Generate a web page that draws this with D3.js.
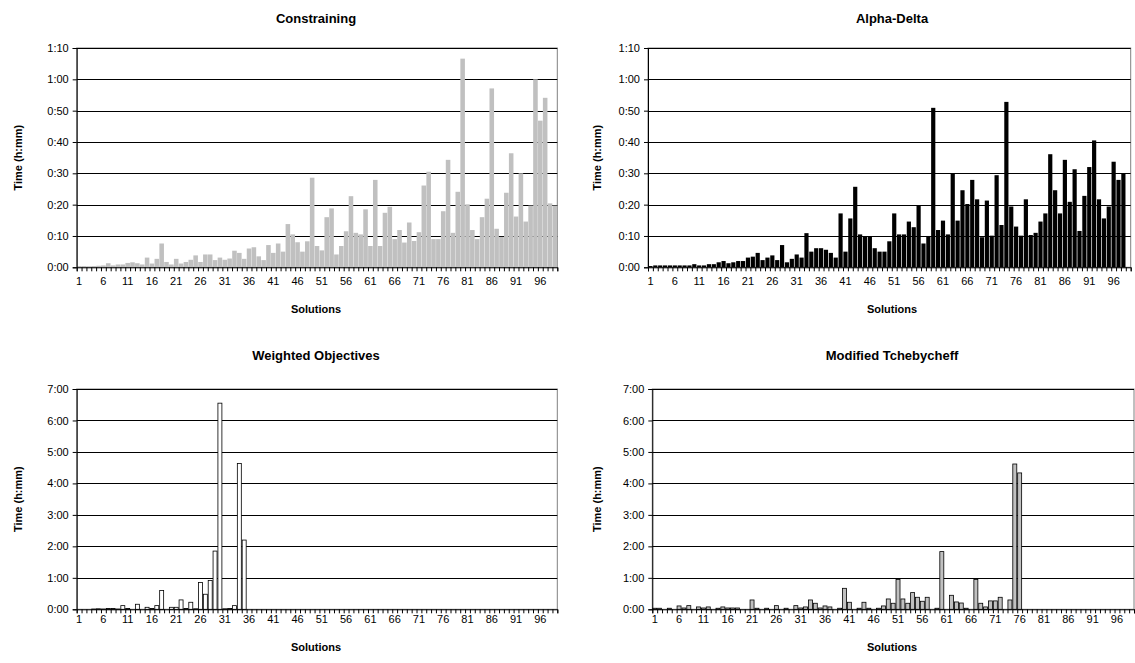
<!DOCTYPE html>
<html>
<head>
<meta charset="utf-8">
<script src="https://cdn.jsdelivr.net/npm/d3@7"></script>
<style>
  body { margin: 0; background: #fff; }
  svg { display: block; font-family: "Liberation Sans", Arial, sans-serif; }
</style>
</head>
<body>
<svg id="chart" width="1135" height="663"></svg>
<script>
// solution numbers 1..99
const solutions = d3.range(1, 100);
const xLabels = solutions.filter(d => (d - 1) % 5 === 0);

// run times in minutes
const constraining = [
  0.4, 0.4, 0.3, 0.4, 0.5, 0.6, 1.3, 0.6, 0.9, 0.9,
  1.4, 1.6, 1.3, 0.9, 3.1, 1.2, 2.7, 7.6, 1.7, 0.9,
  2.7, 1.2, 1.7, 2.4, 3.8, 1.7, 4.1, 4.1, 2.3, 3.1,
  2.4, 2.8, 5.3, 4.6, 2.7, 6.0, 6.4, 3.5, 2.3, 7.1,
  4.6, 7.6, 5.0, 13.8, 10.5, 8.0, 5.0, 8.3, 28.6, 6.8,
  5.4, 16.0, 18.8, 4.1, 6.8, 11.5, 22.7, 11.0, 10.5, 18.5,
  6.8, 27.9, 6.8, 17.4, 19.3, 9.0, 11.9, 7.9, 14.3, 8.4,
  11.2, 26.1, 30.5, 9.0, 9.0, 17.9, 34.3, 11.0, 24.1, 66.6,
  20.1, 11.9, 9.0, 16.0, 21.9, 57.1, 12.3, 9.7, 23.8, 36.4,
  16.2, 30.0, 14.6, 19.7, 60.0, 46.8, 54.1, 20.4, 19.7
];

const alphaDelta = [
  0.4, 0.6, 0.6, 0.6, 0.6, 0.6, 0.6, 0.6, 0.6, 1.0,
  0.6, 0.6, 1.0, 1.0, 1.6, 2.0, 1.3, 1.6, 2.0, 2.0,
  3.1, 3.4, 4.6, 2.3, 3.1, 3.8, 2.3, 7.1, 1.6, 2.7,
  4.1, 3.1, 10.9, 5.0, 6.1, 6.1, 5.6, 4.6, 3.1, 17.2,
  5.0, 15.6, 25.7, 10.5, 9.8, 9.8, 6.1, 5.0, 5.0, 8.3,
  17.2, 10.5, 10.5, 14.6, 12.8, 19.8, 7.6, 10.0, 50.9, 11.9,
  14.9, 10.5, 30.0, 14.9, 24.6, 20.2, 27.9, 21.7, 9.6, 21.3,
  10.1, 29.4, 13.5, 52.8, 19.4, 13.0, 10.1, 21.7, 10.3, 11.0,
  14.6, 17.2, 36.1, 24.6, 17.2, 34.3, 20.9, 31.3, 11.6, 22.8,
  32.0, 40.5, 21.7, 15.6, 19.4, 33.7, 27.9, 30.0, 0
];

const weighted = [
  0, 0, 0, 0.5, 1, 0.5, 1.5, 1.5, 0.5, 7,
  1.5, 0, 9.6, 0, 3.8, 1.5, 7, 35.7, 0, 3.8,
  3.8, 17.9, 1.5, 13.4, 1, 51, 28.7, 55, 111, 393,
  1, 1.5, 7, 278, 132, 0, 0, 0, 0, 0,
  0, 0, 0, 0, 0, 0, 0, 0, 0, 0,
  0, 0, 0, 0, 0, 0, 0, 0, 0, 0,
  0, 0, 0, 0, 0, 0, 0, 0, 0, 0,
  0, 0, 0, 0, 0, 0, 0, 0, 0, 0,
  0, 0, 0, 0, 0, 0, 0, 0, 0, 0,
  0, 0, 0, 0, 0, 0, 0, 0, 0
];

const tchebycheff = [
  2, 2, 0, 2, 0, 6.4, 2.5, 7, 0, 4.5,
  2.5, 4.5, 0, 2, 4.5, 2.5, 2.5, 2.5, 0, 0,
  17.8, 2, 0, 2, 0, 7, 0, 2, 0, 7,
  2.5, 4.5, 17.8, 11.5, 2.5, 6.4, 4.5, 0, 2, 40,
  13.4, 0, 2, 13.4, 2, 0, 2, 6.4, 19.7, 11.5,
  57, 19.7, 11.5, 31.8, 22.9, 15.3, 22.9, 0, 2, 110,
  0, 26.7, 14, 12, 2, 0, 57, 11.5, 4.5, 16,
  16, 22.9, 0, 17.8, 277, 260, 0, 0, 0, 0,
  0, 0, 0, 0, 0, 0, 0, 0, 0, 0,
  0, 0, 0, 0, 0, 0, 0, 0, 0
];

const panels = [
  { title: "Constraining", values: constraining, max: 70, step: 10,
    left: 76.7, top: 48, right: 557.3, bottom: 267.3, cx: 316, ylab: 18, shift: 0,
    fill: "#c0c0c0", stroke: "none", pad: 0.06 },
  { title: "Alpha-Delta", values: alphaDelta, max: 70, step: 10,
    left: 648, top: 48, right: 1130.7, bottom: 267.3, cx: 892, ylab: 597, shift: 0,
    fill: "#000000", stroke: "none", pad: 0.14 },
  { title: "Weighted Objectives", values: weighted, max: 420, step: 60,
    left: 76.7, top: 389, right: 557.3, bottom: 609.3, cx: 316, ylab: 18, shift: -4,
    fill: "#ffffff", stroke: "#000000", pad: 0.18 },
  { title: "Modified Tchebycheff", values: tchebycheff, max: 420, step: 60,
    left: 652.3, top: 389, right: 1134, bottom: 609.3, cx: 892, ylab: 597, shift: -4,
    fill: "#c0c0c0", stroke: "#000000", pad: 0.18 }
];

const fmt = m => Math.floor(m / 60) + ":" + String(Math.round(m % 60)).padStart(2, "0");

const svg = d3.select("#chart");

panels.forEach(function(p) {
  const w = p.right - p.left, h = p.bottom - p.top;
  const g = svg.append("g").attr("transform", `translate(${p.left},${p.top})`);

  const x = d3.scaleBand().domain(solutions).range([0, w])
      .paddingInner(p.pad).paddingOuter(p.pad / 2);
  const xi = d3.scaleLinear().domain([0, solutions.length]).range([0, w]);
  const y = d3.scaleLinear().domain([0, p.max]).range([h, 0]);
  const yTicks = d3.range(0, p.max + 1, p.step);

  // plot frame (top/right)
  g.append("rect")
      .attr("width", w).attr("height", h)
      .attr("fill", "none").attr("stroke", "#808080").attr("stroke-width", 1);

  // gridlines
  g.selectAll(".grid").data(yTicks.slice(1)).join("line")
      .attr("x1", 0).attr("x2", w)
      .attr("y1", d => Math.round(y(d)) + 0.5).attr("y2", d => Math.round(y(d)) + 0.5)
      .attr("stroke", "#000").attr("stroke-width", 1);

  // bars
  g.selectAll(".bar").data(solutions.filter((s, i) => p.values[i] > 0)).join("rect")
      .attr("x", d => x(d))
      .attr("width", x.bandwidth())
      .attr("y", d => y(p.values[d - 1]))
      .attr("height", d => h - y(p.values[d - 1]))
      .attr("fill", p.fill)
      .attr("stroke", p.stroke)
      .attr("stroke-width", p.stroke === "none" ? 0 : 0.8);

  // y axis
  const ya = g.append("g").call(d3.axisLeft(y).tickValues(yTicks).tickFormat(fmt).tickSize(4).tickPadding(4));
  ya.select(".domain").attr("stroke", "#000");
  ya.selectAll("text").attr("font-size", 11).attr("fill", "#000")
      .attr("font-family", "Liberation Sans, Arial, sans-serif");

  // x axis: tick marks between categories
  const xa = g.append("g").attr("transform", `translate(0,${h})`)
      .call(d3.axisBottom(xi).tickValues(d3.range(0, solutions.length + 1)).tickFormat("").tickSize(4));
  xa.select(".domain").attr("stroke", "#000");

  const xl = g.append("g").attr("transform", `translate(0,${h})`)
      .call(d3.axisBottom(x).tickValues(xLabels).tickSize(0).tickPadding(10 + p.shift));
  xl.select(".domain").remove();
  xl.selectAll("text").attr("font-size", 11).attr("fill", "#000")
      .attr("font-family", "Liberation Sans, Arial, sans-serif");

  // titles
  svg.append("text").attr("x", p.cx).attr("y", p.top - 25 + p.shift)
      .attr("text-anchor", "middle").attr("font-size", 13).attr("font-weight", "bold")
      .text(p.title);
  svg.append("text").attr("x", p.cx).attr("y", p.bottom + 46 + p.shift)
      .attr("text-anchor", "middle").attr("font-size", 11).attr("font-weight", "bold")
      .text("Solutions");
  svg.append("text")
      .attr("transform", `translate(${p.ylab},${p.top + h / 2}) rotate(-90)`)
      .attr("text-anchor", "middle").attr("dy", "0.35em")
      .attr("font-size", 11).attr("font-weight", "bold")
      .text("Time (h:mm)");
});
</script>
</body>
</html>
